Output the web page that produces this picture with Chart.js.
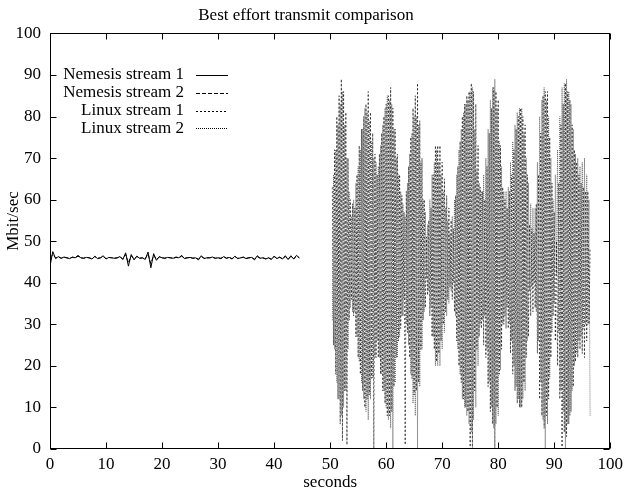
<!DOCTYPE html>
<html>
<head>
<meta charset="utf-8">
<script src="https://cdn.jsdelivr.net/npm/chart.js@4.4.1/dist/chart.umd.min.js"></script>
<style>
html,body{margin:0;padding:0;background:#fff;}
#wrap{width:628px;height:488px;}
</style>
</head>
<body>
<div id="wrap"><canvas id="c" width="628" height="488"></canvas></div>
<script>
// ---- data ----
const titleText = "Best effort transmit comparison";
const xTitle = "seconds";
const yTitle = "Mbit/sec";
const seriesNames = ["Nemesis stream 1", "Nemesis stream 2", "Linux stream 1", "Linux stream 2"];
const xTicks = [0,10,20,30,40,50,60,70,80,90,100];
const yTicks = [0,10,20,30,40,50,60,70,80,90,100];

// Nemesis samples: t = 0, 0.5, 1.0 ... 44.5 s
const nemesisStart = 0, nemesisStep = 0.5;
const nemesis1 = [
 44.0,47.5,45.8,46.3,45.9,46.2,46.0,45.8,46.2,46.0,
 46.6,46.0,45.9,46.1,46.0,45.7,46.4,45.8,46.0,46.5,
 45.7,46.1,46.0,45.9,46.0,46.3,45.6,47.2,44.0,46.8,
 45.5,46.4,45.9,46.0,45.6,47.4,43.6,47.0,45.4,46.3,
 46.0,45.9,46.1,46.0,45.9,46.2,46.0,46.6,45.8,46.0,
 46.1,45.9,46.0,45.5,46.5,45.8,46.0,46.0,46.2,45.9,
 46.0,45.8,46.3,45.9,46.1,45.7,46.4,45.8,46.0,46.2,
 45.8,46.0,46.1,45.5,46.5,45.9,46.0,45.7,46.0,45.6,
 46.4,45.8,46.2,45.7,46.5,45.6,46.5,45.7,46.6,46.0
];
const nemesis2 = [
 46.0,46.8,46.0,46.2,45.9,46.1,46.0,45.9,46.1,46.0,
 46.4,46.0,45.9,46.1,46.0,45.8,46.3,45.9,46.0,46.3,
 45.8,46.1,46.0,45.9,46.0,46.2,45.7,46.8,44.8,46.5,
 45.7,46.3,45.9,46.0,45.8,46.9,44.6,46.6,45.6,46.2,
 46.0,45.9,46.1,46.0,45.9,46.1,46.0,46.4,45.9,46.0,
 46.1,45.9,46.0,45.7,46.3,45.9,46.0,46.0,46.1,45.9,
 46.0,45.9,46.2,45.9,46.1,45.8,46.3,45.9,46.0,46.1,
 45.9,46.0,46.1,45.7,46.3,45.9,46.0,45.8,46.0,45.7,
 46.3,45.9,46.1,45.8,46.3,45.7,46.3,45.8,46.4,46.0
];

// Linux samples: t = 50.4, 50.6 ... 96.4 s
const linuxStart = 50.4, linuxStep = 0.2;
const linux1 = [
 63,25,72,18, 80,12,85,6, 89,2,86,14, 81,1,70,31, 60,36,59,32,
 58,27,66,22, 73,18,77,14, 80,10,83,12, 86,13,81,17, 76,0,71,22,
 66,22,71,18, 76,14,80,11, 83,8,85,8, 87,9,82,15, 77,22,71,26,
 66,29,61,32, 57,1,62,28, 68,22,75,17, 82,13,85,14, 88,16,79,24,
 70,31,60,34, 51,37,55,32, 58,27,66,24, 73,21,73,23, 73,26,69,30,
 65,33,61,36, 58,39,55,36, 53,33,61,26, 68,20,74,16, 80,12,83,10,
 85,9,86,0, 88,0,86,14, 83,24,73,27, 63,29,62,25, 60,22,68,15,
 76,9,82,6, 87,0,86,10, 84,18,73,24, 63,30,60,29, 58,29,62,23,
 66,18,72,14, 77,11,80,10, 82,10,80,16, 78,22,66,27, 54,32,53,33,
 52,34,59,23, 66,12,76,8, 85,5,86,8, 86,12,75,22, 64,32,57,26,
 50,20,64,12, 78,0,83,4, 88,3,86,6, 84,9,78,15, 72,21,69,22,
 66,24,64,23, 63,22,62,26, 62,30,48
];
const linux2 = [
 31,66,24,72, 16,78,12,83, 8,86,10,78, 14,70,24,62, 34,56,33,60,
 33,64,27,68, 21,72,16,77, 12,82,9,81, 7,79,12,74, 17,70,22,69,
 26,68,22,73, 18,78,14,82, 10,85,7,84, 5,83,0,77, 16,70,22,66,
 27,62,32,59, 36,56,30,64, 25,71,18,76, 11,80,8,80, 0,78,15,69,
 24,60,33,57, 41,54,38,60, 34,66,27,69, 20,72,20,69, 20,66,24,62,
 28,58,32,55, 35,52,38,56, 40,60,32,66, 24,72,18,77, 12,81,10,83,
 8,84,6,86, 4,87,7,77, 10,67,20,64, 30,62,31,66, 32,70,24,77,
 16,84,10,87, 5,89,6,82, 8,74,19,68, 30,62,32,62, 34,63,30,69,
 26,74,20,78, 15,81,12,82, 10,82,12,76, 14,70,26,64, 38,59,39,58,
 40,58,33,69, 26,80,16,84, 7,87,0,84, 6,80,17,70, 28,60,35,66,
 42,72,28,80, 14,87,9,88, 0,89,6,86, 8,83,14,77, 20,71,23,70,
 26,68,27,69, 29,70,30,66, 30,60,8
];

// ---- build ----
const toPts = (vals, start, step) => vals.map((v, i) => ({x: +(start + i * step).toFixed(2), y: v}));
const FONT = "'Liberation Serif', 'Times New Roman', serif";
const FS = 17;
const dashes = [[], [4, 2], [2, 2], [1, 1]];
const widths = [1, 1, 0.7, 0.7];
const colors = ['#000', '#000', '#111', '#444'];
const allData = [
  toPts(nemesis1, nemesisStart, nemesisStep),
  toPts(nemesis2, nemesisStart, nemesisStep),
  toPts(linux1, linuxStart, linuxStep),
  toPts(linux2, linuxStart, linuxStep)
];

const datasets = seriesNames.map((name, i) => ({
  label: name,
  data: allData[i],
  borderColor: colors[i],
  borderWidth: widths[i],
  borderDash: dashes[i],
  pointRadius: 0,
  tension: 0,
  fill: false
}));

const framePlugin = {
  id: 'frame',
  afterDraw(chart) {
    const ctx = chart.ctx, a = chart.chartArea;
    const xs = chart.scales.x, ys = chart.scales.y;
    ctx.save();
    ctx.strokeStyle = '#000';
    ctx.lineWidth = 1;
    ctx.setLineDash([]);
    const L = Math.round(a.left) + 0.5, R = Math.round(a.right) - 0.5;
    const T = Math.round(a.top) + 0.5, B = Math.round(a.bottom) - 0.5;
    ctx.strokeRect(L, T, R - L, B - T);
    const tl = 6;
    ctx.beginPath();
    yTicks.forEach(v => {
      const p = Math.round(ys.getPixelForValue(v)) + 0.5;
      ctx.moveTo(L, p); ctx.lineTo(L + tl, p);
      ctx.moveTo(R, p); ctx.lineTo(R - tl, p);
    });
    xTicks.forEach(v => {
      const p = Math.round(xs.getPixelForValue(v)) + 0.5;
      ctx.moveTo(p, B); ctx.lineTo(p, B - tl);
      ctx.moveTo(p, T); ctx.lineTo(p, T + tl);
    });
    ctx.stroke();
    ctx.font = FS + "px " + FONT;
    ctx.fillStyle = '#000';
    // y axis title
    ctx.save();
    ctx.translate(14, 221);
    ctx.rotate(-Math.PI / 2);
    ctx.textAlign = 'center';
    ctx.textBaseline = 'middle';
    ctx.fillText(yTitle, 0, 0);
    ctx.restore();
    // legend (text right-aligned, sample to the right)
    ctx.textAlign = 'right';
    ctx.textBaseline = 'middle';
    chart.data.datasets.forEach((ds, i) => {
      const yy = 75 + i * 17.8;
      ctx.fillText(ds.label, 184, yy);
      ctx.beginPath();
      ctx.strokeStyle = '#000';
      ctx.lineWidth = 1;
      ctx.setLineDash(ds.borderDash);
      ctx.moveTo(196, Math.round(yy) + 0.5);
      ctx.lineTo(228, Math.round(yy) + 0.5);
      ctx.stroke();
    });
    ctx.restore();
  }
};

new Chart(document.getElementById('c'), {
  type: 'line',
  data: { datasets },
  options: {
    responsive: false,
    animation: false,
    devicePixelRatio: 1,
    layout: { padding: { left: 0, right: 16, top: 0, bottom: 0 } },
    plugins: {
      legend: { display: false },
      tooltip: { enabled: false },
      title: {
        display: true,
        text: titleText,
        color: '#000',
        font: { family: FONT, size: FS, weight: 'normal' },
        padding: { top: 5, bottom: 8 }
      }
    },
    scales: {
      x: {
        type: 'linear',
        min: 0, max: 100,
        afterFit(s) { s.height = 39; },
        afterBuildTicks(s) { s.ticks = xTicks.map(v => ({value: v})); },
        grid: { display: false, drawTicks: false },
        border: { display: false },
        ticks: { color: '#000', padding: 5, maxRotation: 0, font: { family: FONT, size: FS } },
        title: { display: true, text: xTitle, color: '#000', padding: { top: 0, bottom: -5 }, font: { family: FONT, size: FS } }
      },
      y: {
        type: 'linear',
        min: 0, max: 100,
        afterFit(s) { s.width = 50; },
        afterBuildTicks(s) { s.ticks = yTicks.map(v => ({value: v})); },
        grid: { display: false, drawTicks: false },
        border: { display: false },
        ticks: { color: '#000', padding: 9, font: { family: FONT, size: FS } },
        title: { display: false }
      }
    }
  },
  plugins: [framePlugin]
});
</script>
</body>
</html>
